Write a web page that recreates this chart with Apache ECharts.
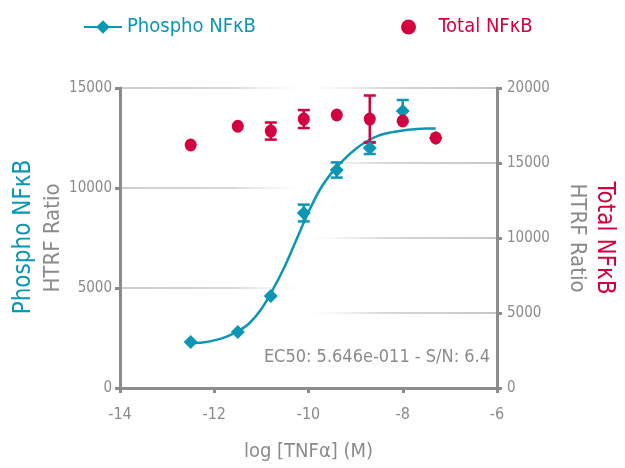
<!DOCTYPE html>
<html>
<head>
<meta charset="utf-8">
<script src="https://cdn.jsdelivr.net/npm/echarts@6/dist/echarts.min.js"></script>
<style>
  html, body { margin: 0; padding: 0; background: #fff; }
  #chart { width: 625px; height: 468px; }
</style>
</head>
<body>
<div id="chart"></div>
<script>
// log [TNFa] (M) doses
const doses = [-12.5, -11.5, -10.8, -10.1, -9.4, -8.7, -8.0, -7.3]
const phospho = [2300, 2800, 4600, 8750, 10900, 12000, 13850, 12500]
const phosphoErr = [0, 0, 0, 420, 380, 300, 550, 0]
const total = [16200, 17450, 17130, 17930, 18200, 17930, 17800, 16670]
const totalErr = [0, 0, 570, 600, 0, 1570, 0, 0]

// fitted curve
const fitX = [-12.5, -12.25, -12.0, -11.75, -11.5, -11.25, -11.0, -10.75, -10.5, -10.25, -10.0, -9.75, -9.5, -9.25, -9.0, -8.75, -8.5, -8.25, -8.0, -7.75, -7.5, -7.3]
const fitY = [2250, 2280, 2380, 2560, 2830, 3250, 3950, 4950, 6100, 7450, 8800, 9950, 10780, 11420, 11950, 12350, 12630, 12780, 12880, 12940, 12970, 12980]

const xTicks = [-14, -12, -10, -8, -6]
const ec50Text = 'EC50: 5.646e-011 - S/N: 6.4'

const TEAL = '#0b96b4'
const RED = '#d2023e'
const GREY = '#8a8a8a'
const FONT = "'DejaVu Sans Condensed', 'DejaVu Sans', sans-serif"

const chart = echarts.init(document.getElementById('chart'), null, { renderer: 'canvas' })

function errorSeries(xs, ys, errs, yAxisIndex, color) {
  const data = []
  xs.forEach((x, i) => {
    if (errs[i] > 0) data.push([x, ys[i] - errs[i], ys[i] + errs[i]])
  })
  return {
    type: 'custom',
    yAxisIndex,
    data,
    encode: { x: 0, y: [1, 2] },
    silent: true,
    z: 3,
    renderItem: (params, api) => {
      const lo = api.coord([api.value(0), api.value(1)])
      const hi = api.coord([api.value(0), api.value(2)])
      const w = 6
      const style = { stroke: color, lineWidth: 2.5 }
      return {
        type: 'group',
        children: [
          { type: 'line', shape: { x1: lo[0], y1: lo[1], x2: hi[0], y2: hi[1] }, style },
          { type: 'line', shape: { x1: lo[0] - w, y1: lo[1], x2: lo[0] + w, y2: lo[1] }, style },
          { type: 'line', shape: { x1: hi[0] - w, y1: hi[1], x2: hi[0] + w, y2: hi[1] }, style },
        ],
      }
    },
  }
}

const axisLine = { show: true, lineStyle: { color: '#8c8c8c', width: 3 } }
const axisTick = { show: true, length: 5, lineStyle: { color: '#8c8c8c', width: 3 } }
const labelStyle = { color: GREY, fontSize: 15, fontFamily: FONT }

const option = {
  backgroundColor: '#fff',
  animation: false,
  grid: { left: 120, right: 128, top: 88, height: 300 },
  legend: [
    {
      left: 78,
      top: 12,
      itemWidth: 38,
      itemHeight: 17,
      selectedMode: false,
      textStyle: { fontSize: 20, fontFamily: FONT },
      data: [{ name: 'Phospho NFκB', textStyle: { color: TEAL } }],
    },
    {
      left: 396,
      top: 12,
      itemWidth: 50,
      itemHeight: 15,
      selectedMode: false,
      textStyle: { fontSize: 20, fontFamily: FONT },
      data: [{ name: 'Total NFκB', textStyle: { color: RED } }],
    },
  ],
  xAxis: {
    type: 'value',
    min: -14,
    max: -6,
    interval: 2,
    name: 'log [TNFα] (M)',
    nameLocation: 'middle',
    nameGap: 54,
    nameTextStyle: { color: GREY, fontSize: 20, fontFamily: FONT },
    splitLine: { show: false },
    axisLine,
    axisTick,
    axisLabel: { ...labelStyle, fontSize: 16, margin: 19, formatter: v => (xTicks.includes(v) ? String(v) : '') },
  },
  yAxis: [
    {
      type: 'value',
      min: 0,
      max: 15000,
      interval: 5000,
      axisLine,
      axisTick,
      axisLabel: { ...labelStyle, margin: 8, formatter: v => String(v) },
      splitLine: {
        show: true,
        lineStyle: {
          width: 2,
          color: new echarts.graphic.LinearGradient(0, 0, 1, 0, [
            { offset: 0, color: 'rgba(200,200,200,0.9)' },
            { offset: 0.3, color: 'rgba(205,205,205,0.8)' },
            { offset: 0.48, color: 'rgba(230,230,230,0)' },
            { offset: 1, color: 'rgba(230,230,230,0)' },
          ]),
        },
      },
    },
    {
      type: 'value',
      min: 0,
      max: 20000,
      interval: 5000,
      axisLine,
      axisTick,
      axisLabel: { ...labelStyle, margin: 10, formatter: v => String(v) },
      splitLine: {
        show: true,
        lineStyle: {
          width: 2,
          color: new echarts.graphic.LinearGradient(0, 0, 1, 0, [
            { offset: 0, color: 'rgba(230,230,230,0)' },
            { offset: 0.5, color: 'rgba(230,230,230,0)' },
            { offset: 0.7, color: 'rgba(205,205,205,0.8)' },
            { offset: 1, color: 'rgba(195,195,195,0.95)' },
          ]),
        },
      },
    },
  ],
  graphic: [
    {
      type: 'text', x: 24, y: 237, rotation: Math.PI / 2,
      style: { text: 'Phospho NFκB', fill: TEAL, font: `24px ${FONT}`, textAlign: 'center', textVerticalAlign: 'middle' },
    },
    {
      type: 'text', x: 53, y: 238, rotation: Math.PI / 2,
      style: { text: 'HTRF Ratio', fill: GREY, font: `22px ${FONT}`, textAlign: 'center', textVerticalAlign: 'middle' },
    },
    {
      type: 'text', x: 604, y: 238, rotation: -Math.PI / 2,
      style: { text: 'Total NFκB', fill: RED, font: `24px ${FONT}`, textAlign: 'center', textVerticalAlign: 'middle' },
    },
    {
      type: 'text', x: 577, y: 238, rotation: -Math.PI / 2,
      style: { text: 'HTRF Ratio', fill: GREY, font: `22px ${FONT}`, textAlign: 'center', textVerticalAlign: 'middle' },
    },
    {
      type: 'text', x: 490, y: 357,
      style: { text: ec50Text, fill: GREY, font: `18px ${FONT}`, textAlign: 'right', textVerticalAlign: 'middle' },
    },
  ],
  series: [
    {
      name: 'Phospho NFκB',
      type: 'line',
      data: fitX.map((x, i) => [x, fitY[i]]),
      smooth: 0.3,
      symbol: 'diamond',
      showSymbol: false,
      lineStyle: { color: TEAL, width: 2.5 },
      itemStyle: { color: TEAL },
      z: 2,
    },
    errorSeries(doses, phospho, phosphoErr, 0, TEAL),
    {
      name: 'Phospho NFκB',
      type: 'scatter',
      data: doses.map((x, i) => [x, phospho[i]]),
      symbol: 'diamond',
      symbolSize: 14,
      itemStyle: { color: TEAL, opacity: 1 },
      z: 4,
    },
    errorSeries(doses, total, totalErr, 1, RED),
    {
      name: 'Total NFκB',
      type: 'scatter',
      yAxisIndex: 1,
      data: doses.map((x, i) => [x, total[i]]),
      symbol: 'circle',
      symbolSize: [12, 13],
      itemStyle: { color: RED, opacity: 1 },
      z: 5,
    },
  ],
}

chart.setOption(option)
</script>
</body>
</html>
